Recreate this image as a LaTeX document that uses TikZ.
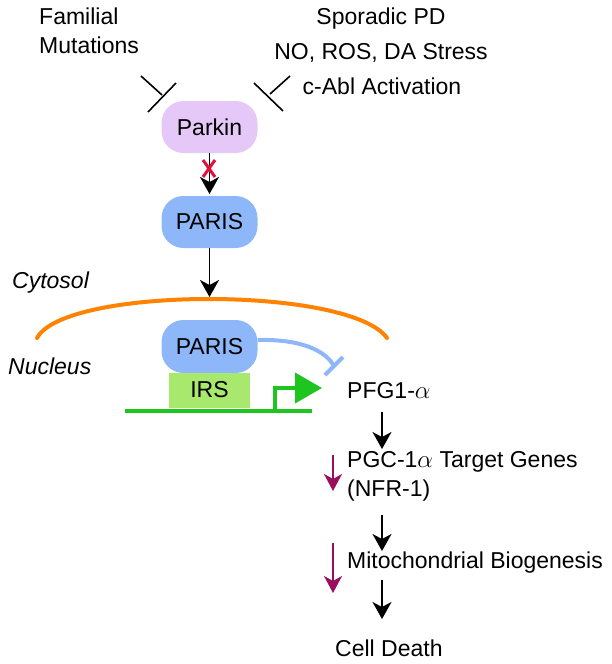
\documentclass[tikz,border=0pt]{standalone}
\usepackage{fontspec}
\setmainfont{Liberation Sans}
\usetikzlibrary{arrows.meta}

\definecolor{parkinfill}{HTML}{E6C8F8}
\definecolor{parisfill}{HTML}{8DB7F8}
\definecolor{irsfill}{HTML}{A8E86C}
\definecolor{dnagreen}{HTML}{1EC51E}
\definecolor{membrane}{HTML}{FF8200}
\definecolor{downarrow}{HTML}{9A0E60}
\definecolor{blockred}{HTML}{E2103C}

\tikzset{
    protein/.style={draw=none, rectangle, rounded corners=22pt, minimum width=96pt, minimum height=52pt},
    txt/.style={inner sep=0pt, font=\fontsize{23}{29}\selectfont},
    flow/.style={line width=1.8pt, -{Stealth[length=17pt, width=19pt, inset=5pt]}},
    down/.style={line width=1.8pt, downarrow, -{Stealth[length=17pt, width=18pt, inset=5pt]}},
    inhibit/.style={line width=1.6pt}
}

\begin{document}
\begin{tikzpicture}[x=1pt, y=-1pt]
    \useasboundingbox (0,0) rectangle (612,664);

    %% **
    % stimuli
    \node[txt, align=left, anchor=north west] (familial) at (39,8) {Familial\\Mutations};
    \node[txt, anchor=center] (sporadic) at (381,19) {Sporadic PD};
    \node[txt, anchor=center] (stress) at (381,53) {NO, ROS, DA Stress};
    \node[txt, anchor=center] (cabl) at (382,86) {c-Abl Activation};

    \coordinate (bl) at (162,95);
    \coordinate (br) at (270,94);
    \draw[inhibit] (141,76) -- (bl) (176,83) -- (148,112);
    \draw[inhibit] (290,76) -- (br) (254,83) -- (283,111);

    % cytosol
    \node[protein, fill=parkinfill, txt, minimum width=96pt, minimum height=52pt] (parkin) at (209.5,127) {Parkin};
    \node[protein, fill=parisfill, txt, minimum width=96pt, minimum height=52pt] (paris) at (209.5,222) {PARIS};
    \draw[flow] (parkin.south) -- (209.5,194);
    \draw[blockred, line width=3pt] (203,160) -- (215,177) (215,160) -- (203,177);

    \node[txt, font=\fontsize{23}{27}\selectfont\itshape, anchor=west] (cytosol) at (12,283) {Cytosol};
    \node[txt, font=\fontsize{23}{27}\selectfont\itshape, anchor=west] (nucleus) at (8,366) {Nucleus};

    \coordinate (memtop) at (209.5,297);
    \draw[membrane, line width=4pt, line cap=round] (37,338) .. controls (65,286) and (350,286) .. (387,338);
    \draw[flow] (paris.south) -- (memtop);

    % nucleus
    \node[protein, fill=parisfill, txt, minimum width=96pt, minimum height=53pt] (nparis) at (209.5,346.5) {PARIS};
    \node[rectangle, fill=irsfill, txt, minimum width=81pt, minimum height=35pt] (irs) at (209.5,390) {IRS};
    \draw[dnagreen, line width=4pt] (125,411) -- (312,411);
    \draw[dnagreen, line width=4pt, -{Triangle[length=27pt, width=30pt]}] (275,411) -- (275,388) -- (322,388);

    \node[txt, anchor=west] (pgc) at (347,391) {PFG1-$\alpha$};
    \coordinate (tbar) at (334,366);
    \draw[parisfill, line width=4pt] (nparis.east |- 0,340) .. controls (300,339) and (325,350) .. (tbar);
    \draw[parisfill, line width=4pt] (325,375) -- (343,357);

    % downstream
    \node[txt, align=left, anchor=north west] (target) at (347,451) {PGC-1$\alpha$ Target Genes\\(NFR-1)};
    \node[txt, anchor=west] (mito) at (347,563) {Mitochondrial Biogenesis};
    \node[txt, anchor=west] (death) at (335,648) {Cell Death};

    \draw[flow] (382,412) -- (382,449);
    \draw[flow] (382,515) -- (382,551);
    \draw[flow] (382,580) -- (382,619);
    \draw[down] (333,455) -- (333,491);
    \draw[down] (333,543) -- (333,593);
\end{tikzpicture}
\end{document}
